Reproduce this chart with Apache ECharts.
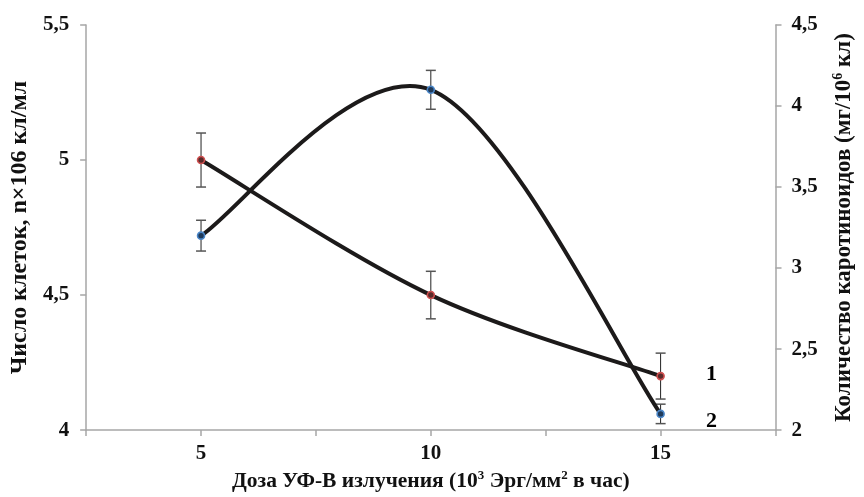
<!DOCTYPE html>
<html>
<head>
<meta charset="utf-8">
<script src="https://cdn.jsdelivr.net/npm/echarts@6/dist/echarts.min.js"></script>
<style>
html,body{margin:0;padding:0;background:#fff;}
#chart{width:864px;height:497px;}
</style>
</head>
<body>
<div id="chart"></div>
<script>
// ---- data ----
const doses = [5, 10, 15];
const xTickLabels = ['5', '10', '15'];
const cellCount = [5.0, 4.5, 4.2];        // series 1, left axis
const cellErr = [0.1, 0.088, 0.085];
const carotenoids = [3.2, 4.1, 2.1];      // series 2, right axis
const carotErr = [0.095, 0.12, 0.06];
const seriesNames = ['1', '2'];

const FONT = "'Liberation Serif','Times New Roman',serif";
const chart = echarts.init(document.getElementById('chart'));

function curveRenderer(ys) {
  return function (params, api) {
    const i = params.dataIndex;
    const n = doses.length;
    if (i >= n - 1) return null;
    const P = k => {
      const j = Math.max(0, Math.min(n - 1, k));
      return api.coord([doses[j], ys[j]]);
    };
    const p0 = P(i - 1), p1 = P(i), p2 = P(i + 1), p3 = P(i + 2);
    return {
      type: 'bezierCurve',
      shape: {
        x1: p1[0], y1: p1[1], x2: p2[0], y2: p2[1],
        cpx1: p1[0] + (p2[0] - p0[0]) / 6, cpy1: p1[1] + (p2[1] - p0[1]) / 6,
        cpx2: p2[0] - (p3[0] - p1[0]) / 6, cpy2: p2[1] - (p3[1] - p1[1]) / 6
      },
      style: { stroke: '#1c1a1a', lineWidth: 4, fill: null, lineCap: 'round' }
    };
  };
}

function errRenderer(params, api) {
  const x = api.value(0), y = api.value(1), e = api.value(2);
  const top = api.coord([x, y + e]);
  const bot = api.coord([x, y - e]);
  const w = 5;
  return {
    type: 'group',
    children: [
      { type: 'line', shape: { x1: top[0], y1: top[1], x2: bot[0], y2: bot[1] }, style: { stroke: '#222', lineWidth: 1 } },
      { type: 'line', shape: { x1: top[0] - w, y1: top[1], x2: top[0] + w, y2: top[1] }, style: { stroke: '#555', lineWidth: 1.5 } },
      { type: 'line', shape: { x1: bot[0] - w, y1: bot[1], x2: bot[0] + w, y2: bot[1] }, style: { stroke: '#555', lineWidth: 1.5 } }
    ]
  };
}

const axisLineStyle = { color: '#a6a6a6', width: 1.5 };
const labelStyle = { fontFamily: FONT, fontWeight: 'bold', fontSize: 21, color: '#111' };
const nameStyle = { fontFamily: FONT, fontWeight: 'bold', fontSize: 21, color: '#111' };
const commaFmt = v => String(v).replace('.', ',');
const endLabel = (text, off) => ({
  show: true, position: 'right', distance: 41, offset: off,
  formatter: p => (p.dataIndex === doses.length - 1 ? text : ''),
  fontFamily: FONT, fontWeight: 'bold', fontSize: 22, color: '#000',
  textBorderWidth: 0
});

chart.setOption({
  animation: false,
  backgroundColor: '#fff',
  grid: { left: 84, right: 73, top: 25, bottom: 65 },
  xAxis: {
    type: 'value', min: 2.5, max: 17.5, interval: 2.5,
    axisLine: { lineStyle: axisLineStyle },
    axisTick: { show: true, length: 6, lineStyle: axisLineStyle },
    splitLine: { show: false },
    axisLabel: Object.assign({ margin: 13, formatter: v => (xTickLabels.indexOf(String(v)) >= 0 ? String(v) : '') }, labelStyle),
    name: '{b|Доза УФ-В излучения (10}{s|3}{b| Эрг/мм}{s|2}{b| в час)}',
    nameLocation: 'middle', nameGap: 27,
    nameTextStyle: {
      rich: {
        b: Object.assign({}, nameStyle, { fontSize: 21.5, lineHeight: 24 }),
        s: Object.assign({}, nameStyle, { fontSize: 13, verticalAlign: 'top', lineHeight: 24 })
      }
    }
  },
  yAxis: [
    {
      type: 'value', min: 4, max: 5.5, interval: 0.5, position: 'left',
      axisLine: { show: true, lineStyle: axisLineStyle },
      axisTick: { show: true, length: 6, lineStyle: axisLineStyle },
      splitLine: { show: false },
      axisLabel: Object.assign({ margin: 17, formatter: commaFmt }, labelStyle),
      name: 'Число клеток, n×106 кл/мл',
      nameLocation: 'middle', nameGap: 32, nameRotate: 90,
      nameTextStyle: Object.assign({}, nameStyle, { fontSize: 24 })
    },
    {
      type: 'value', min: 2, max: 4.5, interval: 0.5, position: 'right',
      axisLine: { show: true, lineStyle: axisLineStyle },
      axisTick: { show: true, length: 6, lineStyle: axisLineStyle },
      splitLine: { show: false },
      axisLabel: Object.assign({ margin: 16, formatter: commaFmt }, labelStyle),
      name: '{b|Количество каротиноидов (мг/10}{s|6}{b| кл)}',
      nameLocation: 'middle', nameGap: 56, nameRotate: 90,
      nameTextStyle: {
        rich: {
          b: Object.assign({}, nameStyle, { fontSize: 23, lineHeight: 26 }),
          s: Object.assign({}, nameStyle, { fontSize: 14, verticalAlign: 'top', lineHeight: 26 })
        }
      }
    }
  ],
  series: [
    {
      type: 'custom', yAxisIndex: 0, z: 1,
      data: doses.map((x, i) => [x, cellCount[i], cellErr[i]]),
      encode: { x: 0, y: 1 }, renderItem: errRenderer
    },
    {
      type: 'custom', yAxisIndex: 1, z: 1,
      data: doses.map((x, i) => [x, carotenoids[i], carotErr[i]]),
      encode: { x: 0, y: 1 }, renderItem: errRenderer
    },
    {
      type: 'custom', yAxisIndex: 0, z: 2,
      data: doses.map((x, i) => [x, cellCount[i]]),
      encode: { x: 0, y: 1 }, renderItem: curveRenderer(cellCount)
    },
    {
      type: 'custom', yAxisIndex: 1, z: 2,
      data: doses.map((x, i) => [x, carotenoids[i]]),
      encode: { x: 0, y: 1 }, renderItem: curveRenderer(carotenoids)
    },
    {
      type: 'scatter', yAxisIndex: 0, z: 3, symbol: 'circle', symbolSize: 7,
      itemStyle: { color: '#5a2a2a', borderColor: '#d05050', borderWidth: 1.6, opacity: 1 },
      data: doses.map((x, i) => [x, cellCount[i]]),
      label: endLabel(seriesNames[0], [0, -2]),
      emphasis: { disabled: true }
    },
    {
      type: 'scatter', yAxisIndex: 1, z: 3, symbol: 'circle', symbolSize: 7,
      itemStyle: { color: '#1f3a5a', borderColor: '#4a86c8', borderWidth: 1.6, opacity: 1 },
      data: doses.map((x, i) => [x, carotenoids[i]]),
      label: endLabel(seriesNames[1], [0, 7]),
      emphasis: { disabled: true }
    }
  ]
});
</script>
</body>
</html>
